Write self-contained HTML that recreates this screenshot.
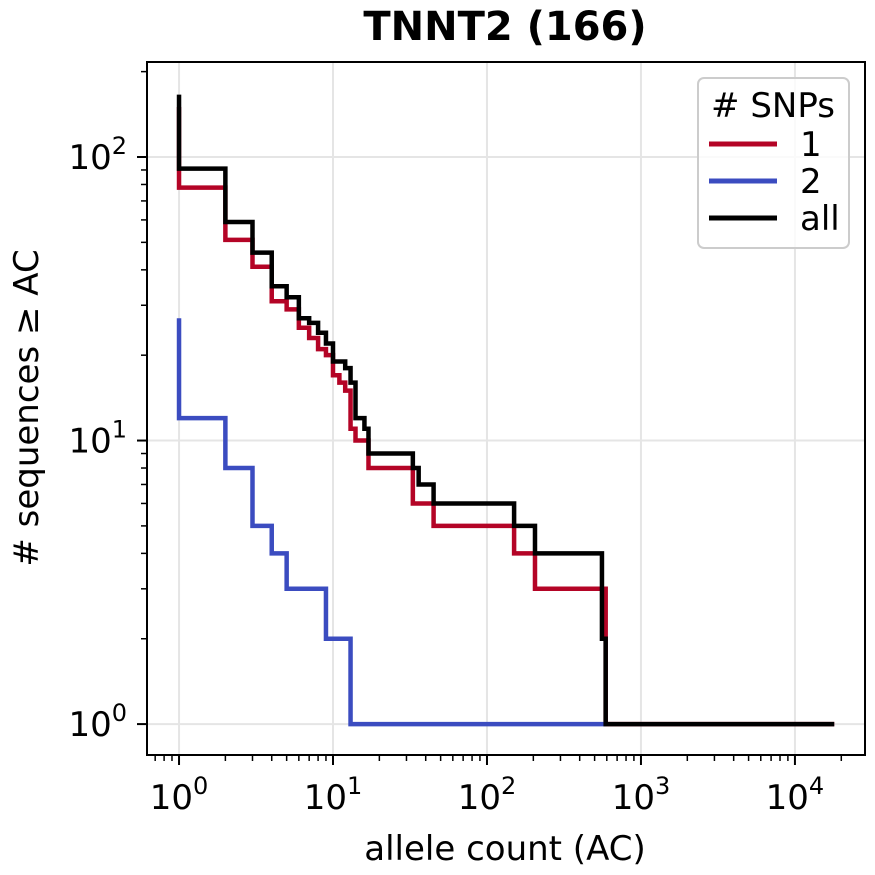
<!DOCTYPE html>
<html><head><meta charset="utf-8"><style>
body{margin:0;background:#fff}
svg{display:block;font-family:"DejaVu Sans","Liberation Sans",sans-serif}
</style></head><body>
<svg id="chart" width="875" height="875" viewBox="0 0 875 875" xmlns="http://www.w3.org/2000/svg">
<rect width="875" height="875" fill="#fff"/>
<text x="505" y="40" text-anchor="middle" font-size="40" font-weight="bold">TNNT2 (166)</text>
<g id="grid"></g>
<g id="series"></g>
<g id="axes"></g>
<text x="505" y="860" text-anchor="middle" font-size="34">allele count (AC)</text>
<text transform="translate(38,408) rotate(-90)" text-anchor="middle" font-size="34"># sequences ≥ AC</text>
<g>
<rect x="698" y="78" width="151" height="170" rx="6" fill="#fff" fill-opacity="0.8" stroke="#ccc" stroke-width="2"/>
<text x="773" y="117" text-anchor="middle" font-size="34">#&#160;SNPs</text>
<g><line x1="709" y1="144" x2="777" y2="144" stroke="#b40426" stroke-width="5"/><text x="800" y="156" font-size="34">1</text></g>
<g><line x1="709" y1="181" x2="777" y2="181" stroke="#3b4cc0" stroke-width="5"/><text x="800" y="193" font-size="34">2</text></g>
<g><line x1="709" y1="218" x2="777" y2="218" stroke="#000" stroke-width="5"/><text x="800" y="230" font-size="34">all</text></g>
</g>
</svg>
<script>
const xTicks=[0,1,2,3,4];
const yTicks=[0,1,2];
const snp1X=[1,1,2,3,4,5,6,7,8,9,10,11,12,13,14,17,33,45,150,205,590,18000];
const snp1Y=[150,78,51,41,31,29,25,23,21,20,17,16,15,11,10,8,6,5,4,3,1,1];
const snp2X=[1,1,2,3,4,5,9,13,590];
const snp2Y=[27,12,8,5,4,3,2,1,1];
const allX=[1,1,2,3,4,5,6,7,8,9,10,12,13,14,16,17,33,36,45,150,205,558,590,18000];
const allY=[166,91,59,46,35,32,27,26,24,22,19,18,16,12,11,9,8,7,6,5,4,2,1,1];
const X0=147,X1=865,Y0=62,Y1=755;
const XL=-0.208,XR=4.455,YB=-0.109,YT=2.335;
function sx(v){return X0+(Math.log10(v)-XL)/(XR-XL)*(X1-X0);}
function sy(v){return Y1-(Math.log10(v)-YB)/(YT-YB)*(Y1-Y0);}
const NS="http://www.w3.org/2000/svg";
function mk(tag,attrs,parent){const e=document.createElementNS(NS,tag);for(const k in attrs)e.setAttribute(k,attrs[k]);parent.appendChild(e);return e;}
const grid=document.getElementById('grid'),axes=document.getElementById('axes'),series=document.getElementById('series');
xTicks.forEach(t=>{const x=sx(Math.pow(10,t));
 const g=mk('line',{x1:x,x2:x,y1:Y0,y2:Y1,stroke:'#e5e5e5','stroke-width':2},grid);
 
 
 mk('line',{x1:x,x2:x,y1:Y1,y2:Y1+10,stroke:'#000','stroke-width':2},axes);
 const tx=mk('text',{x:x,y:Y1+54,'text-anchor':'middle','font-size':34},axes);
 
 
 tx.innerHTML='10<tspan dy="-15" font-size="24">'+t+'</tspan>';
 for(let m=2;m<10;m++){const v=m*Math.pow(10,t);const xm=sx(v);if(xm>X0&&xm<X1)mk('line',{x1:xm,x2:xm,y1:Y1,y2:Y1+6,stroke:'#000','stroke-width':1.5},axes);}
});
[0.1].forEach(b=>{for(let m=2;m<10;m++){const xm=sx(m*b);if(xm>X0&&xm<X1)mk('line',{x1:xm,x2:xm,y1:Y1,y2:Y1+6,stroke:'#000','stroke-width':1.5},axes);}});
yTicks.forEach(t=>{const y=sy(Math.pow(10,t));
 const g=mk('line',{x1:X0,x2:X1,y1:y,y2:y,stroke:'#e5e5e5','stroke-width':2},grid);
 
 
 mk('line',{x1:X0-10,x2:X0,y1:y,y2:y,stroke:'#000','stroke-width':2},axes);
 const tx=mk('text',{x:X0-20,y:y+12,'text-anchor':'end','font-size':34},axes);
 
 
 tx.innerHTML='10<tspan dy="-15" font-size="24">'+t+'</tspan>';
 for(let m=2;m<10;m++){const ym=sy(m*Math.pow(10,t));if(ym>Y0&&ym<Y1)mk('line',{x1:X0-6,x2:X0,y1:ym,y2:ym,stroke:'#000','stroke-width':1.5},axes);}
});
const fr=mk('rect',{x:X0,y:Y0,width:X1-X0,height:Y1-Y0,fill:'none',stroke:'#000','stroke-width':2},axes);


function stepPath(xs,ys){let d='M'+sx(xs[0])+','+sy(ys[0]);
 for(let i=1;i<xs.length;i++){d+=' H'+sx(xs[i])+' V'+sy(ys[i]);}return d;}
function draw(xs,ys,col,name){const p=mk('path',{d:stepPath(xs,ys),fill:'none',stroke:col,'stroke-width':4.5,'stroke-linejoin':'miter'},series);
 
 }
draw(snp1X,snp1Y,'#b40426','series-1-snp');
draw(snp2X,snp2Y,'#3b4cc0','series-2-snp');
draw(allX,allY,'#000','series-all');
</script>
</body></html>
